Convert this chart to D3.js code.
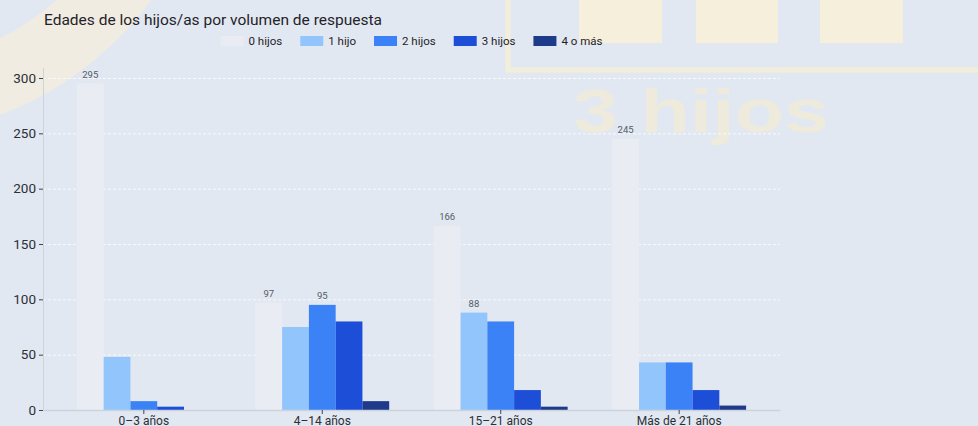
<!DOCTYPE html>
<html>
<head>
<meta charset="utf-8">
<title>Edades de los hijos/as por volumen de respuesta</title>
<script src="https://cdn.jsdelivr.net/npm/d3@7"></script>
<style>
    body {
        margin: 0;
        padding: 0;
        background: #e2e8f1;
        font-family: Roboto, "Open Sans", sans-serif;
    }
    svg {
        display: block;
    }
</style>
</head>
<body>
<div id="chart"></div>
<script>
    var categories = ["0\u20133 años", "4\u201314 años", "15\u201321 años", "Más de 21 años"];
    var seriesNames = ["0 hijos", "1 hijo", "2 hijos", "3 hijos", "4 o más"];
    var seriesColors = ["#e9edf3", "#93c5fd", "#3b82f6", "#1d4ed8", "#1e3a8a"];

    // one array per series, in category order
    var hijos0 = [295, 97, 166, 245];
    var hijos1 = [48, 75, 88, 43];
    var hijos2 = [8, 95, 80, 43];
    var hijos3 = [3, 80, 18, 18];
    var hijos4 = [0, 8, 3, 4];
    var values = [hijos0, hijos1, hijos2, hijos3, hijos4];

    // which bars carry a value label (same layout as values)
    var labelShown = [
        [true, true, true, true],
        [false, false, true, false],
        [false, true, false, false],
        [false, false, false, false],
        [false, false, false, false]
    ];

    var yTicks = [0, 50, 100, 150, 200, 250, 300];

    var WIDTH = 978, HEIGHT = 426;
    var PLOT = { left: 43, right: 780, top: 78, bottom: 410 };

    var svg = d3.select("#chart").append("svg")
        .attr("width", WIDTH)
        .attr("height", HEIGHT);

    // faded background picture
    var deco = svg.append("g").attr("class", "background");
    deco.append("rect").attr("width", WIDTH).attr("height", HEIGHT).attr("fill", "#e2e8f1");
    deco.append("circle")
        .attr("cx", -120).attr("cy", -200).attr("r", 302)
        .attr("fill", "none")
        .attr("stroke", "#f6eedb")
        .attr("stroke-width", 70)
        .attr("opacity", 0.75);
    deco.append("path")
        .attr("d", "M508,0 V70 H978")
        .attr("fill", "none")
        .attr("stroke", "#f6efd6")
        .attr("stroke-width", 5)
        .attr("opacity", 0.85);
    [[579, 662], [696, 778], [820, 903]].forEach(function (s) {
        deco.append("rect")
            .attr("x", s[0]).attr("y", 0)
            .attr("width", s[1] - s[0]).attr("height", 43)
            .attr("fill", "#f8efd9")
            .attr("opacity", 0.9);
    });
    deco.append("text")
        .attr("x", 573).attr("y", 132)
        .attr("font-family", "Liberation Sans, Arial, sans-serif")
        .attr("font-weight", "bold")
        .attr("font-size", 62)
        .attr("textLength", 256)
        .attr("lengthAdjust", "spacingAndGlyphs")
        .attr("fill", "#f3ecd6")
        .attr("opacity", 0.75)
        .text("3 hijos");

    var x0 = d3.scaleBand()
        .domain(categories)
        .range([PLOT.left, PLOT.right])
        .paddingInner(0.25)
        .paddingOuter(0.19);

    var x1 = d3.scaleBand()
        .domain(d3.range(seriesNames.length))
        .range([0, x0.bandwidth()]);

    var y = d3.scaleLinear()
        .domain([0, 300])
        .range([PLOT.bottom, PLOT.top]);

    // gridlines
    svg.append("g")
        .selectAll("line")
        .data(yTicks.slice(1))
        .enter()
        .append("line")
        .attr("x1", PLOT.left)
        .attr("x2", PLOT.right)
        .attr("y1", function (d) { return y(d) + 0.5; })
        .attr("y2", function (d) { return y(d) + 0.5; })
        .attr("stroke", "#f7f9fc")
        .attr("stroke-width", 1)
        .attr("stroke-dasharray", "3,2");

    // bars
    var groups = svg.append("g")
        .selectAll("g")
        .data(categories)
        .enter()
        .append("g")
        .attr("transform", function (d) { return "translate(" + x0(d) + ",0)"; });

    groups.selectAll("rect")
        .data(function (d, ci) {
            return values.map(function (s, si) { return { si: si, ci: ci, v: s[ci] }; });
        })
        .enter()
        .append("rect")
        .attr("x", function (d) { return x1(d.si); })
        .attr("y", function (d) { return y(d.v); })
        .attr("width", x1.bandwidth())
        .attr("height", function (d) { return y(0) - y(d.v); })
        .attr("fill", function (d) { return seriesColors[d.si]; });

    groups.selectAll("text")
        .data(function (d, ci) {
            return values.map(function (s, si) { return { si: si, ci: ci, v: s[ci] }; })
                .filter(function (d) { return labelShown[d.si][d.ci]; });
        })
        .enter()
        .append("text")
        .attr("x", function (d) { return x1(d.si) + x1.bandwidth() / 2; })
        .attr("y", function (d) { return y(d.v) - 6; })
        .attr("text-anchor", "middle")
        .attr("font-size", 9.5)
        .attr("fill", "#555b66")
        .text(function (d) { return d.v; });

    // y axis
    var yAxis = svg.append("g")
        .attr("transform", "translate(" + PLOT.left + ",0)")
        .call(d3.axisLeft(y).tickValues(yTicks).tickSize(4).tickPadding(3));
    yAxis.select(".domain").attr("stroke", "#cdd3dc").attr("d", "M0.5," + (PLOT.top - 10) + "V" + PLOT.bottom);
    yAxis.selectAll(".tick line").attr("stroke", "#444");
    yAxis.selectAll(".tick text")
        .attr("font-family", "Roboto, sans-serif")
        .attr("font-size", 13.5)
        .attr("fill", "#2b2f36");

    // x axis
    var xAxis = svg.append("g")
        .attr("transform", "translate(0," + PLOT.bottom + ")")
        .call(d3.axisBottom(x0).tickSize(4).tickPadding(2).tickSizeOuter(0));
    xAxis.select(".domain").attr("stroke", "#cdd3dc").attr("stroke-width", 1.5);
    xAxis.selectAll(".tick line").attr("stroke", "#444");
    xAxis.selectAll(".tick text")
        .attr("font-family", "Roboto, sans-serif")
        .attr("font-size", 12)
        .attr("fill", "#2b2f36");

    // title
    svg.append("text")
        .attr("x", 44)
        .attr("y", 25)
        .attr("font-size", 15.5)
        .attr("fill", "#1f2329")
        .text("Edades de los hijos/as por volumen de respuesta");

    // legend, centred over the plot
    var legend = svg.append("g");
    var lx = 0;
    seriesNames.forEach(function (name, i) {
        var item = legend.append("g").attr("transform", "translate(" + lx + ",0)");
        item.append("rect")
            .attr("x", 0).attr("y", 36)
            .attr("width", 23).attr("height", 10)
            .attr("fill", seriesColors[i]);
        var t = item.append("text")
            .attr("x", 28).attr("y", 45)
            .attr("font-size", 11.5)
            .attr("fill", "#1f2329")
            .text(name);
        lx += 28 + t.node().getComputedTextLength() + 18;
    });
    var legendWidth = lx - 18;
    legend.attr("transform", "translate(" + ((PLOT.left + PLOT.right) / 2 - legendWidth / 2) + ",0)");
</script>
</body>
</html>
